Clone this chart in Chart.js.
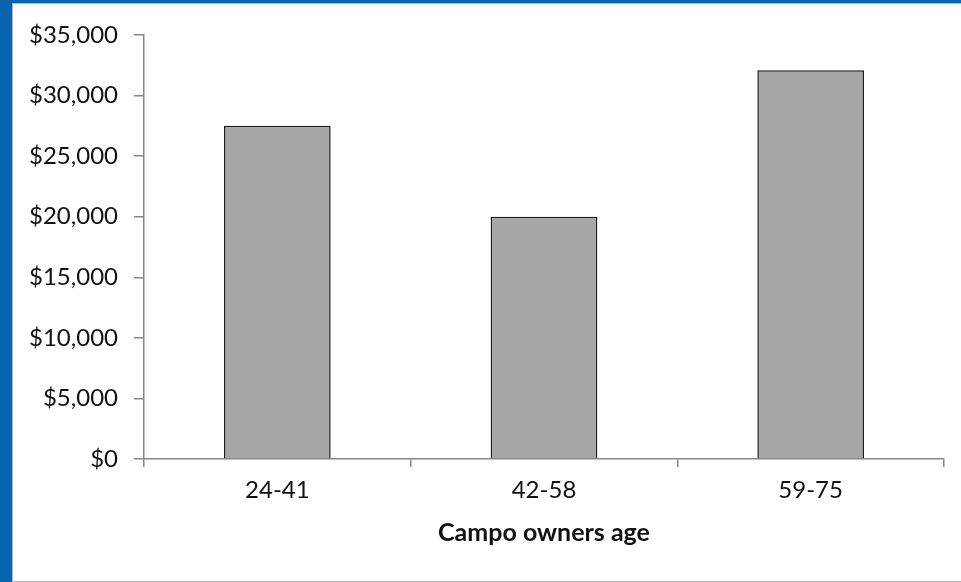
<!DOCTYPE html>
<html><head><meta charset="utf-8">
<script src="https://cdn.jsdelivr.net/npm/chart.js@4"></script>
<style>
html,body{margin:0;padding:0;width:961px;height:582px;overflow:hidden;background:#0764ad;}
#panel{position:absolute;left:12px;top:3px;width:949px;height:579px;background:#fff;box-sizing:border-box;border:1.5px solid #b8b8b8;border-right:none;}
#wrap{position:absolute;left:0;top:0;width:961px;height:582px;}
</style></head>
<body>
<div id="panel"></div>
<div id="wrap"><canvas id="c" width="961" height="582"></canvas></div>
<script>
const categories = ["24-41", "42-58", "59-75"];
const incomeValues = [27500, 20000, 32100];
const yTickValues = [0, 5000, 10000, 15000, 20000, 25000, 30000, 35000];
const xAxisTitle = "Campo owners age";

const FONT = "Lato, 'Open Sans', sans-serif";
new Chart(document.getElementById('c'), {
  type: 'bar',
  data: {
    labels: categories,
    datasets: [{
      data: incomeValues,
      backgroundColor: '#a6a6a6',
      borderColor: '#1a1a1a',
      borderWidth: 1.5,
      barPercentage: 0.4,
      categoryPercentage: 1.0
    }]
  },
  options: {
    responsive: false,
    animation: false,
    layout: { padding: { left: 0, right: 17, top: 35, bottom: 0 } },
    plugins: { legend: { display: false }, tooltip: { enabled: false } },
    scales: {
      y: {
        min: 0, max: 35000,
        afterBuildTicks: s => { s.ticks = yTickValues.map(v => ({ value: v })); },
        afterFit: s => { s.width = 144; },
        border: { display: true, color: '#868686', width: 1.5 },
        grid: { display: true, drawOnChartArea: false, drawTicks: true, tickLength: 10, color: '#868686', lineWidth: 1.5 },
        ticks: {
          padding: 16,
          color: '#111',
          font: { family: FONT, size: 24 },
          callback: v => '$' + Number(v).toLocaleString('en-US')
        }
      },
      x: {
        afterFit: s => { s.height = 123; },
        border: { display: true, color: '#868686', width: 1.5 },
        grid: { display: true, drawOnChartArea: false, drawTicks: true, tickLength: 8, color: '#868686', lineWidth: 1.5, offset: true },
        ticks: { padding: 9, color: '#111', font: { family: FONT, size: 24 } },
        title: {
          display: true, text: xAxisTitle, color: '#111',
          font: { family: FONT, size: 25, weight: 'bold' },
          padding: { top: 12, bottom: 34 }
        }
      }
    }
  }
});
</script>
</body></html>
